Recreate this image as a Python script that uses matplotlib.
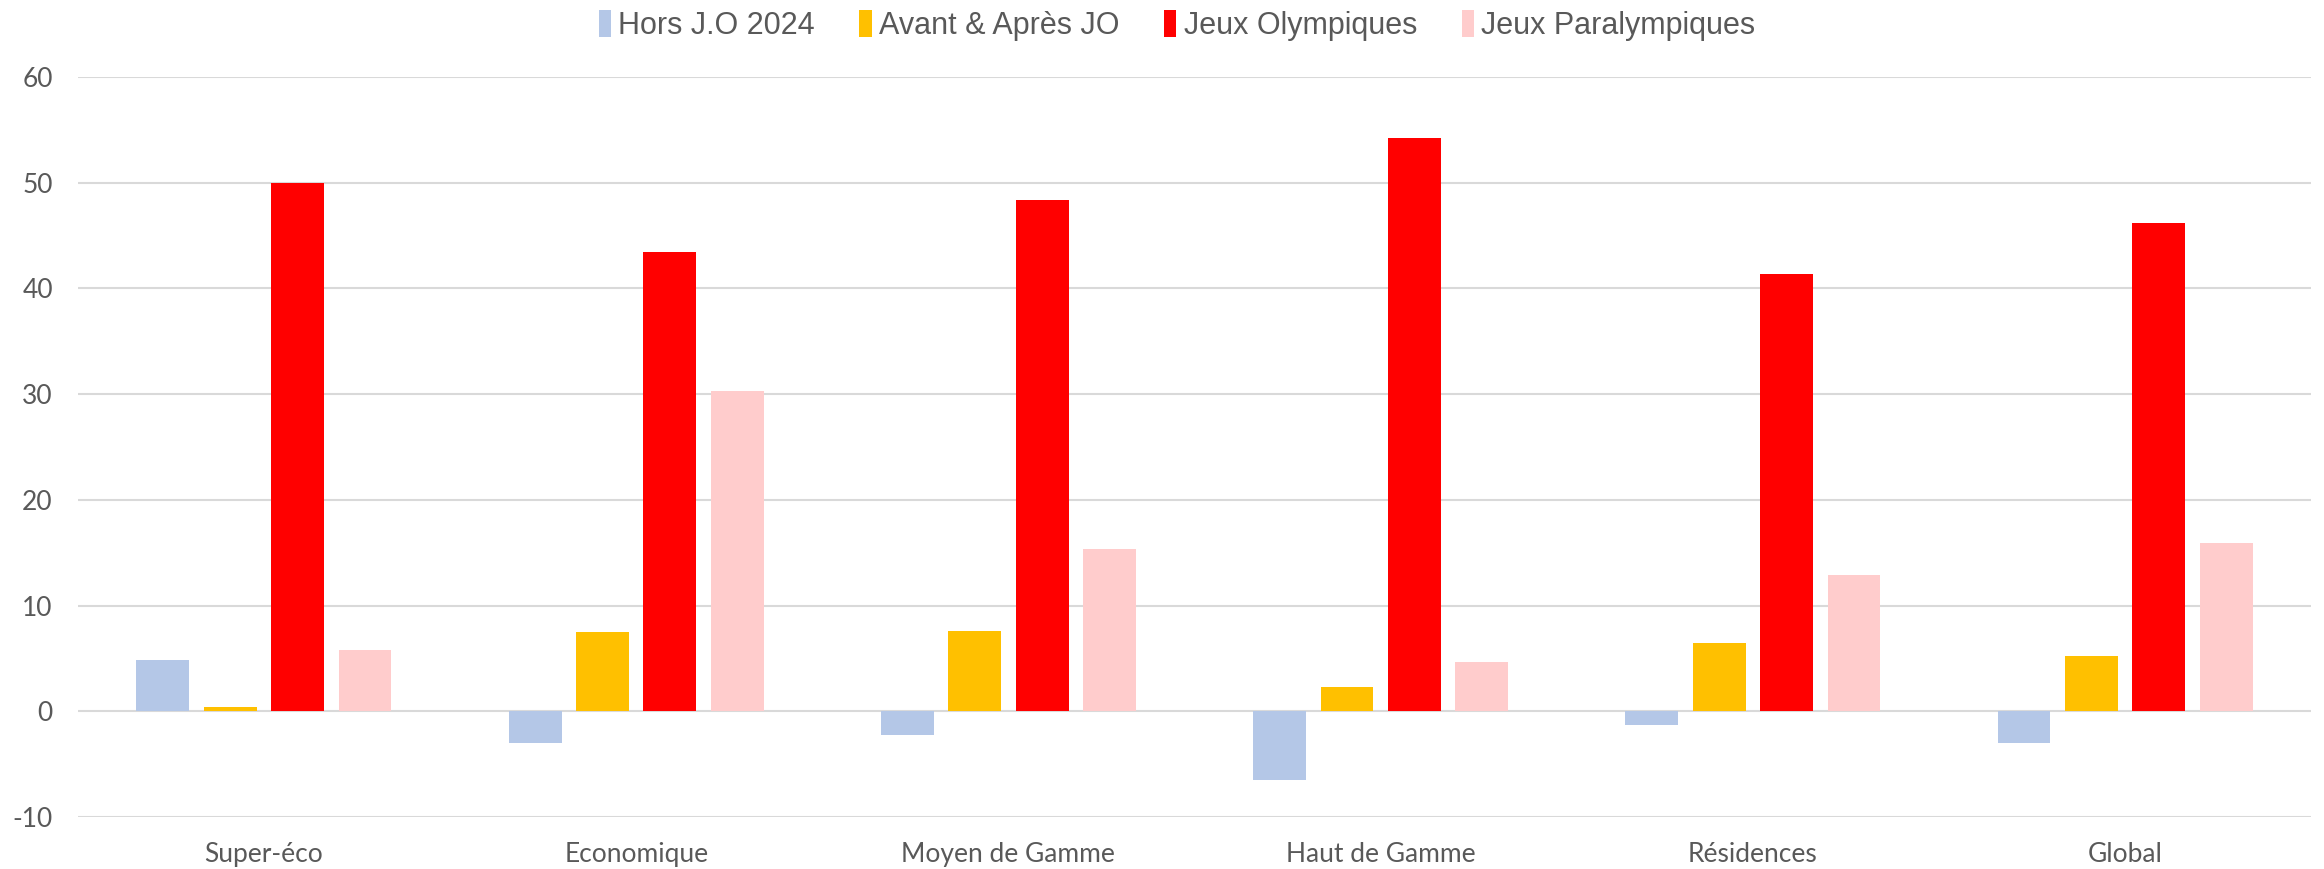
import numpy as np
import matplotlib
matplotlib.use("Agg")
import matplotlib.pyplot as plt

plt.rcParams["axes.unicode_minus"] = False

# categories and series
categories = ["Super-éco", "Economique", "Moyen de Gamme", "Haut de Gamme", "Résidences", "Global"]
hors_jo = [4.9, -3.0, -2.2, -6.5, -1.3, -3.0]
avant_apres = [0.4, 7.5, 7.6, 2.3, 6.5, 5.2]
jeux_olymp = [50.0, 43.4, 48.4, 54.2, 41.4, 46.2]
jeux_para = [5.8, 30.3, 15.4, 4.7, 12.9, 15.9]

series_names = ["Hors J.O 2024", "Avant & Après JO", "Jeux Olympiques", "Jeux Paralympiques"]
colors = ["#B4C7E7", "#FFC000", "#FF0000", "#FFCCCC"]
y_ticks = [-10, 0, 10, 20, 30, 40, 50, 60]

text_col = "#595959"

fig = plt.figure(figsize=(23.24, 8.69), dpi=100)
ax = fig.add_axes([0.0335, 0.0598, 0.961, 0.8516])

x = np.arange(len(categories))
step = 0.181
width = 0.142
all_series = [hors_jo, avant_apres, jeux_olymp, jeux_para]
for i, vals in enumerate(all_series):
    ax.bar(x + (i - 1.5) * step, vals, width, color=colors[i], label=series_names[i], zorder=3)

ax.set_xlim(-0.5, len(categories) - 0.5)
ax.set_ylim(-10, 60)
ax.set_yticks(y_ticks)
ax.set_xticks(x)
ax.set_xticklabels(categories, family=["Lato", "DejaVu Sans"], fontsize=19, color=text_col)
for lab in ax.get_yticklabels():
    lab.set_family(["Lato", "DejaVu Sans"])
    lab.set_fontsize(19)
    lab.set_color(text_col)
ax.tick_params(length=0)
ax.tick_params(axis="y", pad=18)
ax.tick_params(axis="x", pad=18)
ax.grid(axis="y", color="#D9D9D9", linewidth=1.5, zorder=0)
for s in ax.spines.values():
    s.set_visible(False)

fig.legend(loc="center", bbox_to_anchor=(0.5065, 0.971), ncol=4, frameon=False,
           handlelength=0.4, handleheight=1.0, handletextpad=0.25, columnspacing=1.45,
           prop={"family": ["Liberation Sans", "DejaVu Sans"], "size": 22},
           labelcolor=text_col)

fig.savefig("out.png", dpi=100)
